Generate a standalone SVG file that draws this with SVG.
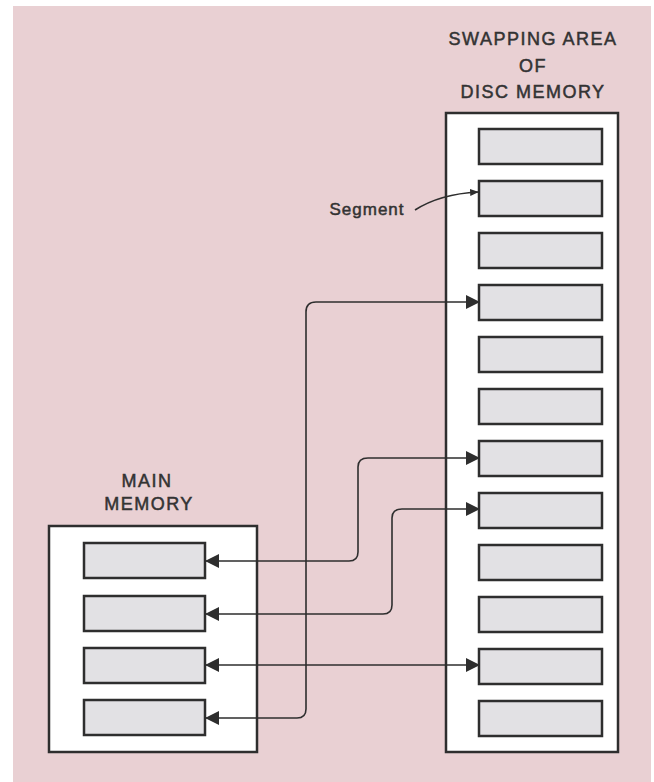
<svg xmlns="http://www.w3.org/2000/svg" width="654" height="782" viewBox="0 0 654 782">
<style>
.bg{fill:#e9d0d3}
.box{fill:#ffffff;stroke:#2e2e2e;stroke-width:2.5}
.seg{fill:#e2e1e4;stroke:#2e2e2e;stroke-width:2.5}
.lbl{font-family:"Liberation Sans",Arial,sans-serif;font-size:18px;fill:#333;stroke:#333;stroke-width:0.5;letter-spacing:1.5px;text-anchor:middle}
.conn{fill:none;stroke:#2e2e2e;stroke-width:1.6}
</style>
<defs>
<marker id="ah" viewBox="0 0 14 14" refX="13" refY="7" markerWidth="14" markerHeight="14" markerUnits="userSpaceOnUse" orient="auto-start-reverse">
<path d="M0,0 L14,7 L0,14 Z" fill="#2e2e2e"/>
</marker>
<marker id="ahs" viewBox="0 0 10 8" refX="9" refY="4" markerWidth="9" markerHeight="7" markerUnits="userSpaceOnUse" orient="auto">
<path d="M0,0 L10,4 L0,8 Z" fill="#2e2e2e"/>
</marker>
</defs>
<rect class="bg" x="13" y="6" width="638" height="776"/>

<g id="disc-memory">
<text class="lbl" x="533" y="45">SWAPPING AREA</text>
<text class="lbl" x="533" y="71.5">OF</text>
<text class="lbl" x="533" y="98">DISC MEMORY</text>
<rect class="box" x="446" y="113" width="172" height="639"/>
<rect class="seg" x="479" y="129" width="123" height="35"/>
<rect class="seg" x="479" y="181" width="123" height="35"/>
<rect class="seg" x="479" y="233" width="123" height="35"/>
<rect class="seg" x="479" y="285" width="123" height="35"/>
<rect class="seg" x="479" y="337" width="123" height="35"/>
<rect class="seg" x="479" y="389" width="123" height="35"/>
<rect class="seg" x="479" y="441" width="123" height="35"/>
<rect class="seg" x="479" y="493" width="123" height="35"/>
<rect class="seg" x="479" y="545" width="123" height="35"/>
<rect class="seg" x="479" y="597" width="123" height="35"/>
<rect class="seg" x="479" y="649" width="123" height="35"/>
<rect class="seg" x="479" y="701" width="123" height="35"/>
</g>

<g id="main-memory">
<text class="lbl" x="147" y="487">MAIN</text>
<text class="lbl" x="149" y="510">MEMORY</text>
<rect class="box" x="49" y="526" width="208" height="226"/>
<rect class="seg" x="84" y="543" width="121" height="35"/>
<rect class="seg" x="84" y="596" width="121" height="35"/>
<rect class="seg" x="84" y="648" width="121" height="35"/>
<rect class="seg" x="84" y="700" width="121" height="35"/>
</g>

<g id="segment-label">
<text x="367" y="215" style="font-family:'Liberation Sans',Arial,sans-serif;font-size:17px;fill:#333;stroke:#333;stroke-width:0.5;letter-spacing:1px;text-anchor:middle">Segment</text>
</g>

<g id="connectors">
<path class="conn" d="M415,210 Q440,194 478,192" marker-end="url(#ahs)"/>
<path class="conn" d="M206,718 L297,718 Q306,718 306,709 L306,312 Q306,302 316,302 L479,302" marker-start="url(#ah)" marker-end="url(#ah)"/>
<path class="conn" d="M206,561 L349,561 Q358,561 358,552 L358,467 Q358,458 368,458 L479,458" marker-start="url(#ah)" marker-end="url(#ah)"/>
<path class="conn" d="M206,614 L383,614 Q392,614 392,605 L392,518 Q392,509 402,509 L479,509" marker-start="url(#ah)" marker-end="url(#ah)"/>
<path class="conn" d="M206,665 L479,665" marker-start="url(#ah)" marker-end="url(#ah)"/>
</g>
</svg>
